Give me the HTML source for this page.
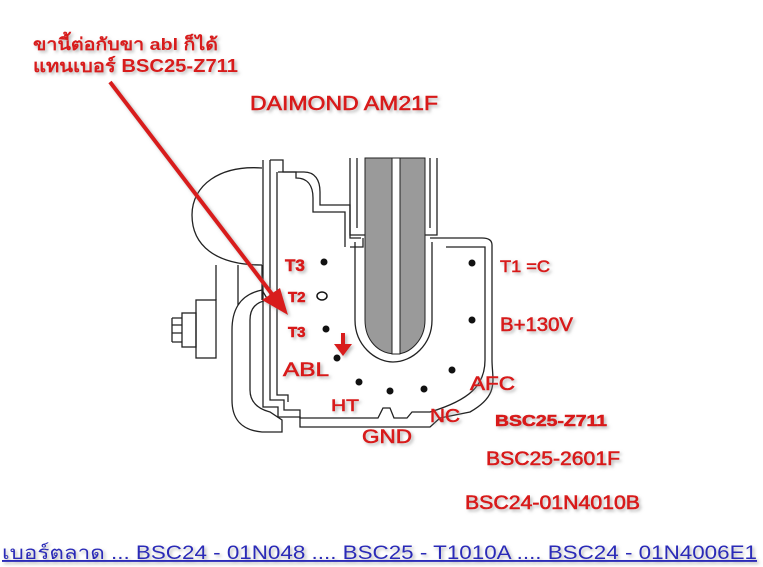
<!DOCTYPE html>
<html><head><meta charset="utf-8"><style>
html,body{margin:0;padding:0;background:#fff;width:763px;height:567px;overflow:hidden}
svg{display:block}
.r{fill:#d81a1a;font-family:"Liberation Sans","Noto Sans CJK SC",sans-serif}
.h{stroke:#d81a1a;stroke-width:0.6}
</style></head><body>
<svg width="763" height="567" viewBox="0 0 763 567" xmlns="http://www.w3.org/2000/svg">
<defs><filter id="sh"><feDropShadow dx="2" dy="2" stdDeviation="1.5" flood-color="#888" flood-opacity="0.6"/></filter></defs>
<g fill="none" stroke="#222" stroke-width="1.3">
<path d="M262,168 C220,165 192,185 192,215 C192,245 215,265 262,265"/>
<path d="M262,265 L262,300 M238,265 L238,305 M216,265 L216,300"/>
<rect x="196" y="300" width="20" height="58"/>
<rect x="182" y="313" width="14" height="34"/>
<path d="M172,318 h10 M172,342 h10 M172,318 v24 M172,325 h10 M172,333 h10"/>
<path d="M262,290 C238,295 232,312 232,330 L232,400 C232,418 240,430 262,432 L282,432 L282,420 L270,412 C255,408 250,400 250,390 L250,320 C250,308 256,302 268,300 Z"/>
<path d="M263,160 L263,407 L278,407 L278,417 L300,417 L300,427 L430,427 L440,418 L470,412 C500,395 492,380 492,360 L492,245 C492,240 488,238 482,238 L430,238"/>
<path d="M270,160 L283,160 L283,172 L304,172 C315,172 320,180 320,192 L320,205 L350,205 L350,238 L361,238"/>
<path d="M270,160 L270,400 L284,400 L284,410 L300,410 L300,418 L378,418 L383,408 L390,408 L394,418 L407,418 L412,412 L430,412 C470,400 485,385 485,360 L485,247 L446,247"/>
<path d="M277,172 L277,395 L288,395 L288,402"/>
<path d="M350,247 L363,247 L363,238"/>
<path d="M278,172 L296,172 L296,178 C308,178 313,186 313,198 L313,212 L345,212 L345,247"/>
<path d="M350,158 L350,235 L437,235 L437,158"/>
<path d="M357,158 L357,228 M430,158 L430,228"/>
<path d="M355,242 L355,320 C355,345 375,362 393,362 C412,362 432,345 432,320 L432,242"/>
</g>
<path d="M365,158 L425,158 L425,320 C425,340 410,354 396,354 C378,354 365,340 365,320 Z" fill="#9a9a9a" stroke="#222"/>
<path d="M392,158 L392,354 L400,354 L400,158 Z" fill="#fff" stroke="#222"/>
<g fill="#111">
<circle cx="324" cy="262" r="3.5"/><circle cx="326" cy="329" r="3.5"/>
<circle cx="337" cy="358" r="3.5"/><circle cx="359" cy="382" r="3.5"/>
<circle cx="390" cy="391" r="3.5"/><circle cx="424" cy="389" r="3.5"/>
<circle cx="472" cy="263" r="3.5"/><circle cx="472" cy="320" r="3.5"/>
<circle cx="452" cy="370" r="3.5"/>
</g>
<ellipse cx="322" cy="296" rx="5" ry="4" fill="#fff" stroke="#111" stroke-width="1.5"/>
<g filter="url(#sh)">
<line x1="110" y1="82" x2="275" y2="298" stroke="#d81a1a" stroke-width="4"/>
<polygon points="288,315 262,300 280,288" fill="#d81a1a"/>
<line x1="343" y1="333" x2="343" y2="346" stroke="#d81a1a" stroke-width="4"/>
<polygon points="334,344 352,344 343,356" fill="#d81a1a"/>
</g>
<g class="r" filter="url(#sh)" font-weight="bold">
<text x="33" y="50" font-size="17" textLength="185" lengthAdjust="spacingAndGlyphs">ขานี้ต่อกับขา abl ก็ได้</text>
<text x="33" y="72" font-size="18" textLength="205" lengthAdjust="spacingAndGlyphs">แทนเบอร์ BSC25-Z711</text>
</g>
<g class="r h" filter="url(#sh)">
<text x="250" y="110" font-size="20" textLength="188" lengthAdjust="spacingAndGlyphs">DAIMOND AM21F</text>
<text x="285" y="271" font-size="17" font-weight="bold">T3</text>
<text x="288" y="302" font-size="15" font-weight="bold">T2</text>
<text x="288" y="337" font-size="15" font-weight="bold">T3</text>
<text x="283" y="376" font-size="19" textLength="46" lengthAdjust="spacingAndGlyphs">ABL</text>
<text x="331" y="411" font-size="17" textLength="28" lengthAdjust="spacingAndGlyphs">HT</text>
<text x="362" y="443" font-size="19" textLength="50" lengthAdjust="spacingAndGlyphs">GND</text>
<text x="430" y="422" font-size="18" textLength="30" lengthAdjust="spacingAndGlyphs">NC</text>
<text x="470" y="390" font-size="19" textLength="45" lengthAdjust="spacingAndGlyphs">AFC</text>
<text x="500" y="272" font-size="17" textLength="50" lengthAdjust="spacingAndGlyphs">T1 =C</text>
<text x="500" y="331" font-size="19" textLength="73" lengthAdjust="spacingAndGlyphs">B+130V</text>
<text x="495" y="426" font-size="16" font-weight="bold" textLength="112" lengthAdjust="spacingAndGlyphs">BSC25-Z711</text>
<text x="486" y="465" font-size="19" textLength="134" lengthAdjust="spacingAndGlyphs">BSC25-2601F</text>
<text x="465" y="509" font-size="19" textLength="175" lengthAdjust="spacingAndGlyphs">BSC24-01N4010B</text>
</g>
<text x="2" y="559" font-size="19" fill="#2a2ab8" font-family="'Liberation Sans Narrow','Liberation Sans',sans-serif" text-decoration="underline" textLength="755" lengthAdjust="spacingAndGlyphs" filter="url(#sh)">เบอร์ตลาด ... BSC24 - 01N048 .... BSC25 - T1010A .... BSC24 - 01N4006E1</text>
</svg>
</body></html>
